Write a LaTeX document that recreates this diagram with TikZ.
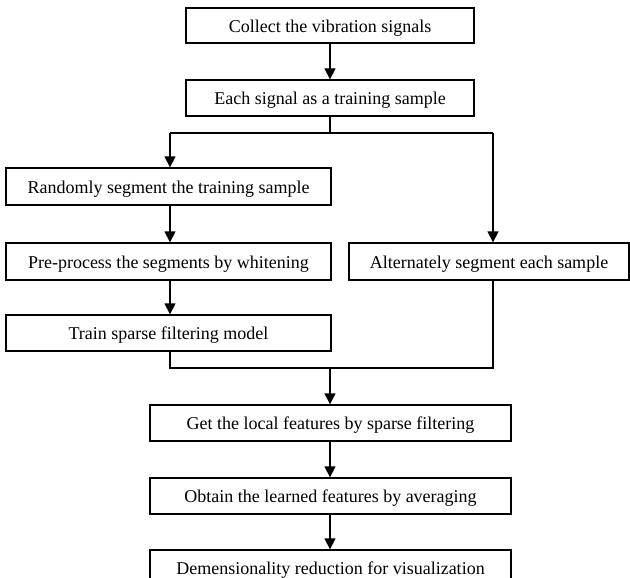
\documentclass[tikz,border=0pt]{standalone}
\usepackage{fontspec}
\setmainfont{Liberation Serif}
\usetikzlibrary{arrows.meta}
\begin{document}
\begin{tikzpicture}[x=1pt,y=-1pt,
  stepbox/.style={draw,line width=1.3pt,inner sep=0pt,text height=15pt,text depth=1.5pt,font=\fontsize{18}{21}\selectfont},
  conn/.style={line width=1.3pt},
  arr/.style={conn,-{Triangle[length=11pt,width=11pt]}}]
\useasboundingbox (0,0) rectangle (630,578);
\clip (0,0) rectangle (630,578);
\node[stepbox,minimum width=288pt,minimum height=35pt] (b1) at (330,25.5) {Collect the vibration signals};
\node[stepbox,minimum width=288pt,minimum height=36pt] (b2) at (330,98) {Each signal as a training sample};
\node[stepbox,minimum width=325pt,minimum height=37pt] (b3) at (168.5,186.5) {Randomly segment the training sample};
\node[stepbox,minimum width=325pt,minimum height=37pt] (b4) at (168.5,261.5) {Pre-process the segments by whitening};
\node[stepbox,minimum width=280pt,minimum height=37pt] (b5) at (489,261.5) {Alternately segment each sample};
\node[stepbox,minimum width=325pt,minimum height=36pt] (b6) at (168.5,333) {Train sparse filtering model};
\node[stepbox,minimum width=361pt,minimum height=36pt] (b7) at (330.5,423) {Get the local features by sparse filtering};
\node[stepbox,minimum width=361pt,minimum height=36pt] (b8) at (330.5,496) {Obtain the learned features by averaging};
\node[stepbox,minimum width=361pt,minimum height=36pt] (b9) at (330.5,568) {Demensionality reduction for visualization};
\coordinate (s1) at (330,133);
\coordinate (jl) at (170,133);
\coordinate (jr) at (493,133);
\coordinate (m1) at (170,368);
\coordinate (m2) at (493,368);
\coordinate (mc) at (330,368);
\draw[arr] (b1.south -| s1) -- (b2.north -| s1);
\draw[conn] (b2.south -| s1) -- (s1);
\draw[conn] (jl) -- (jr);
\draw[arr] (jl) -- (jl |- b3.north);
\draw[arr] (jr) -- (jr |- b5.north);
\draw[arr] (b3.south -| jl) -- (b4.north -| jl);
\draw[arr] (b4.south -| jl) -- (b6.north -| jl);
\draw[conn] (b6.south -| m1) -- (m1) -- (m2) -- (b5.south -| m2);
\draw[arr] (mc) -- (mc |- b7.north);
\draw[arr] (b7.south -| mc) -- (b8.north -| mc);
\draw[arr] (b8.south -| mc) -- (b9.north -| mc);
\end{tikzpicture}
\end{document}
